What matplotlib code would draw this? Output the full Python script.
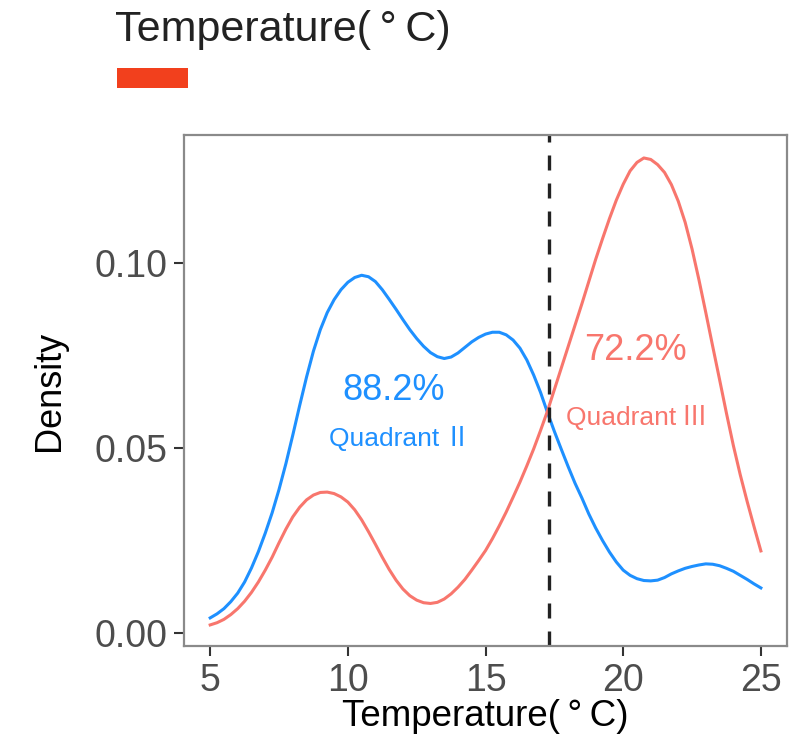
import matplotlib
matplotlib.use("Agg")
import matplotlib.pyplot as plt
from matplotlib.patches import Rectangle

# Density curves of temperature for the two quadrants
temperature = [5.00, 5.25, 5.50, 5.75, 6.00, 6.25, 6.50, 6.75, 7.00, 7.25,
               7.50, 7.75, 8.00, 8.25, 8.50, 8.75, 9.00, 9.25, 9.50, 9.75,
               10.00, 10.25, 10.50, 10.75, 11.00, 11.25, 11.50, 11.75, 12.00, 12.25,
               12.50, 12.75, 13.00, 13.25, 13.50, 13.75, 14.00, 14.25, 14.50, 14.75,
               15.00, 15.25, 15.50, 15.75, 16.00, 16.25, 16.50, 16.75, 17.00, 17.25,
               17.50, 17.75, 18.00, 18.25, 18.50, 18.75, 19.00, 19.25, 19.50, 19.75,
               20.00, 20.25, 20.50, 20.75, 21.00, 21.25, 21.50, 21.75, 22.00, 22.25,
               22.50, 22.75, 23.00, 23.25, 23.50, 23.75, 24.00, 24.25, 24.50, 24.75,
               25.00]

density_q2 = [0.0041, 0.0052, 0.0066, 0.0085, 0.0108, 0.0138, 0.0176, 0.0220, 0.0270, 0.0325,
              0.0388, 0.0458, 0.0535, 0.0615, 0.0692, 0.0762, 0.0820, 0.0866, 0.0901, 0.0928,
              0.0948, 0.0961, 0.0967, 0.0963, 0.0950, 0.0928, 0.0902, 0.0875, 0.0847, 0.0820,
              0.0796, 0.0775, 0.0758, 0.0747, 0.0742, 0.0746, 0.0757, 0.0772, 0.0787, 0.0799,
              0.0808, 0.0813, 0.0813, 0.0806, 0.0792, 0.0770, 0.0738, 0.0697, 0.0650, 0.0596,
              0.0545, 0.0497, 0.0450, 0.0405, 0.0365, 0.0322, 0.0284, 0.0250, 0.0219, 0.0192,
              0.0170, 0.0156, 0.0147, 0.0142, 0.0141, 0.0143, 0.0150, 0.0160, 0.0168, 0.0175,
              0.0180, 0.0184, 0.0187, 0.0186, 0.0182, 0.0175, 0.0167, 0.0156, 0.0145, 0.0133,
              0.0122]

density_q3 = [0.0022, 0.0028, 0.0037, 0.0050, 0.0066, 0.0086, 0.0110, 0.0138, 0.0170, 0.0205,
              0.0244, 0.0281, 0.0314, 0.0340, 0.0360, 0.0373, 0.0380, 0.0381, 0.0377, 0.0368,
              0.0354, 0.0333, 0.0306, 0.0274, 0.0240, 0.0205, 0.0172, 0.0143, 0.0119, 0.0101,
              0.0089, 0.0082, 0.0080, 0.0083, 0.0092, 0.0106, 0.0124, 0.0145, 0.0170, 0.0196,
              0.0223, 0.0255, 0.0290, 0.0327, 0.0367, 0.0408, 0.0452, 0.0498, 0.0548, 0.0600,
              0.0658, 0.0716, 0.0774, 0.0832, 0.0890, 0.0950, 0.1010, 0.1066, 0.1120, 0.1170,
              0.1213, 0.1249, 0.1272, 0.1284, 0.1280, 0.1266, 0.1245, 0.1212, 0.1167, 0.1110,
              0.1038, 0.0955, 0.0866, 0.0775, 0.0685, 0.0594, 0.0507, 0.0428, 0.0356, 0.0288,
              0.0222]

split_temperature = 17.3

pct_labels = ["88.2%", "72.2%"]
quadrant_labels = ["Quadrant\u2009\u2161", "Quadrant\u2009\u2162"]

x_ticks = [5, 10, 15, 20, 25]
y_ticks = [0.00, 0.05, 0.10]
y_tick_labels = ["0.00", "0.05", "0.10"]

blue = "#1E90FF"
red = "#F8766D"
fam = ["Liberation Sans", "Noto Sans CJK SC", "DejaVu Sans"]
plt.rcParams["font.family"] = fam

fig = plt.figure(figsize=(7.97, 7.51), dpi=100)
ax = fig.add_axes([0.2309, 0.1398, 0.7566, 0.6804])

ax.plot(temperature, density_q2, color=blue, lw=2.2, solid_joinstyle="round")
ax.plot(temperature, density_q3, color=red, lw=2.2, solid_joinstyle="round")
ax.axvline(split_temperature, color="#222222", lw=2.4, linestyle=(0, (4.5, 3.9)))

ax.text(11.65, 0.0655, pct_labels[0], color=blue, fontsize=26, ha="center", va="center")
ax.text(11.9, 0.0525, quadrant_labels[0], color=blue, fontsize=19, ha="center", va="center")
ax.text(20.45, 0.0765, pct_labels[1], color=red, fontsize=26, ha="center", va="center")
ax.text(20.5, 0.0583, quadrant_labels[1], color=red, fontsize=19, ha="center", va="center")

ax.set_xlim(4.05, 25.95)
ax.set_ylim(-0.0035, 0.1346)
ax.set_xticks(x_ticks)
ax.set_xticklabels([str(t) for t in x_ticks])
ax.set_yticks(y_ticks)
ax.set_yticklabels(y_tick_labels)
ax.tick_params(axis="both", length=7, width=1.5, color="#333333",
               labelcolor="#4D4D4D", labelsize=27, pad=5)
for sp in ax.spines.values():
    sp.set_color("#8A8A8A")
    sp.set_linewidth(1.6)

ax.set_xlabel("Temperature(\u2009°\u2009C)", fontsize=26.5, color="black", labelpad=0)
ax.set_ylabel("Density", fontsize=26, color="black", labelpad=20)

# Legend: title and colour key
fig.text(0.1443, 0.945, "Temperature(\u2009°\u2009C)", fontsize=31, color="#222222",
         ha="left", va="baseline")
fig.patches.append(Rectangle((0.1468, 0.8828), 0.0891, 0.0266, transform=fig.transFigure,
                             facecolor="#F2401D", edgecolor="none"))

fig.savefig("out.png", dpi=100)
